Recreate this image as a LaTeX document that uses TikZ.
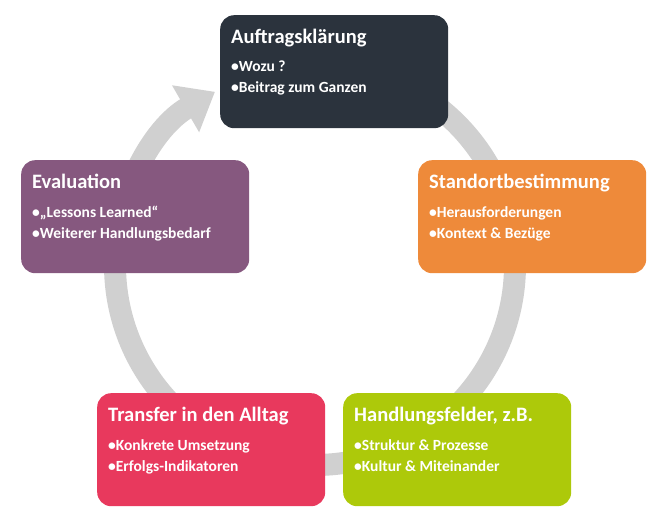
\documentclass[tikz,border=0pt]{standalone}
\usepackage{fontspec}
\setmainfont{Carlito}
\usetikzlibrary{arrows.meta,positioning}
\definecolor{cDark}{HTML}{2B333D}
\definecolor{cOrange}{HTML}{EE8A3A}
\definecolor{cGreen}{HTML}{ADC90A}
\definecolor{cRed}{HTML}{E8395D}
\definecolor{cPurple}{HTML}{86587F}
\definecolor{cRing}{HTML}{D0D0D0}
\begin{document}
\begin{tikzpicture}[
  x=1pt, y=1pt,
  box/.style = {draw=none,fill=#1,rounded corners=14pt,anchor=north west,
                minimum width=228pt,minimum height=113pt,inner sep=0pt},
  title/.style = {anchor=north west,text=white,font=\bfseries\fontsize{20.5}{24}\selectfont,inner sep=0pt},
  items/.style = {anchor=north west,text=white,align=left,font=\bfseries\fontsize{15.5}{21}\selectfont,inner sep=0pt}
  ]
  \useasboundingbox (0,0) rectangle (654,-513);
  % ring
  \draw[cRing,line width=22pt,-{Triangle[width=52pt,length=34pt]}]
    (315,-65) arc[start angle=90,end angle=-240,radius=200];
  % boxes
  \node[box=cDark] (auftrag) at (220,-15) {};
  \node[box=cOrange] (standort) at (418,-160) {};
  \node[box=cGreen] (handlung) at (343,-393) {};
  \node[box=cRed] (transfer) at (97,-393) {};
  \node[box=cPurple] (eval) at (21,-160) {};
  % texts
  \node[title] (auftragT) at ([shift={(11,-14)}]auftrag.north west) {Auftragsklärung};
  \node[items] at ([shift={(11,-46)}]auftrag.north west) {•Wozu ?\\•Beitrag zum Ganzen};
  \node[title] (standortT) at ([shift={(11,-14)}]standort.north west) {Standortbestimmung};
  \node[items] at ([shift={(11,-46)}]standort.north west) {•Herausforderungen\\•Kontext \& Bezüge};
  \node[title] (handlungT) at ([shift={(11,-14)}]handlung.north west) {Handlungsfelder, z.B.};
  \node[items] at ([shift={(11,-46)}]handlung.north west) {•Struktur \& Prozesse\\•Kultur \& Miteinander};
  \node[title] (transferT) at ([shift={(11,-14)}]transfer.north west) {Transfer in den Alltag};
  \node[items] at ([shift={(11,-46)}]transfer.north west) {•Konkrete Umsetzung\\•Erfolgs-Indikatoren};
  \node[title] (evalT) at ([shift={(11,-14)}]eval.north west) {Evaluation};
  \node[items] at ([shift={(11,-46)}]eval.north west) {•„Lessons Learned“\\•Weiterer Handlungsbedarf};
\end{tikzpicture}
\end{document}
